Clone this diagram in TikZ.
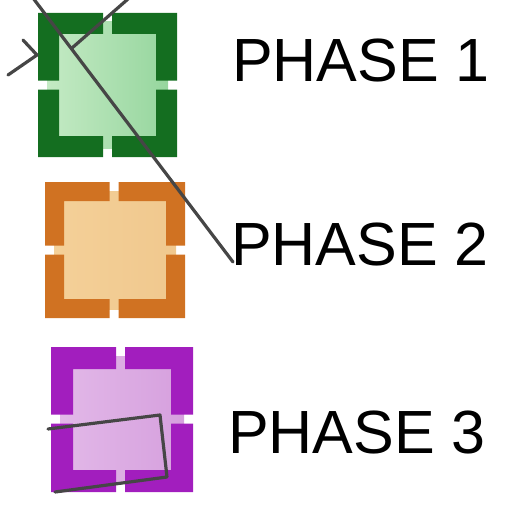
\documentclass[tikz,border=0pt]{standalone}
\usepackage{fontspec}
\setmainfont{Liberation Sans}

\definecolor{greendark}{RGB}{20,110,32}
\definecolor{greenlightA}{RGB}{196,234,196}
\definecolor{greenlightB}{RGB}{150,214,158}
\definecolor{orangedark}{RGB}{208,114,34}
\definecolor{orangelightA}{RGB}{244,208,152}
\definecolor{orangelightB}{RGB}{240,200,142}
\definecolor{purpledark}{RGB}{162,30,190}
\definecolor{purplelightA}{RGB}{226,184,232}
\definecolor{purplelightB}{RGB}{214,160,222}
\definecolor{penline}{RGB}{70,70,70}

\tikzset{
  phase text/.style={anchor=base west, inner sep=0pt, font=\fontsize{61}{61}\selectfont},
  pen/.style={draw=penline, line width=3.2pt, line cap=round, line join=round},
}

% icon: x0, y0, x1, y1, gap x, gap y, thickness, dark, light
\newcommand{\phaseicon}[9]{%
  \fill[left color=#9A, right color=#9B] ({#1+9},{#2+9}) rectangle ({#3-9},{#4-9});
  \fill[#8] (#1,#2) -- ({#5-4.5},#2) -- ({#5-4.5},{#2+#7}) -- ({#1+#7},{#2+#7})
    -- ({#1+#7},{#6-4.5}) -- (#1,{#6-4.5}) -- cycle;
  \fill[#8] (#3,#2) -- ({#5+4.5},#2) -- ({#5+4.5},{#2+#7}) -- ({#3-#7},{#2+#7})
    -- ({#3-#7},{#6-4.5}) -- (#3,{#6-4.5}) -- cycle;
  \fill[#8] (#1,#4) -- ({#5-4.5},#4) -- ({#5-4.5},{#4-#7}) -- ({#1+#7},{#4-#7})
    -- ({#1+#7},{#6+4.5}) -- (#1,{#6+4.5}) -- cycle;
  \fill[#8] (#3,#4) -- ({#5+4.5},#4) -- ({#5+4.5},{#4-#7}) -- ({#3-#7},{#4-#7})
    -- ({#3-#7},{#6+4.5}) -- (#3,{#6+4.5}) -- cycle;
}

\begin{document}
\begin{tikzpicture}[x=1pt, y=-1pt]
\useasboundingbox (0,0) rectangle (518,511);
\clip (0,0) rectangle (518,511);

% the three icons
\phaseicon{38}{13}{177}{157}{107.5}{85}{21}{greendark}{greenlight}
\phaseicon{45}{182}{185}{318}{114}{250}{19}{orangedark}{orangelight}
\phaseicon{51}{347}{193}{492}{120.5}{419}{22}{purpledark}{purplelight}

% labels
\node[phase text] (phase1) at (232,81) {PHASE 1};
\node[phase text] (phase2) at (231,265) {PHASE 2};
\node[phase text] (phase3) at (228,453) {PHASE 3};

% pen strokes over the icons
\coordinate (strokeA) at (33,-2);
\coordinate (strokeB) at (233,262);
\draw[pen] (strokeA) -- (strokeB);
\draw[pen] (128,-1) -- (72,48);
\draw[pen] (23,40) -- (37,55) -- (8,75);
\draw[pen] (48,429) -- (160,415) -- (167,477) -- (55,492);
\end{tikzpicture}
\end{document}
